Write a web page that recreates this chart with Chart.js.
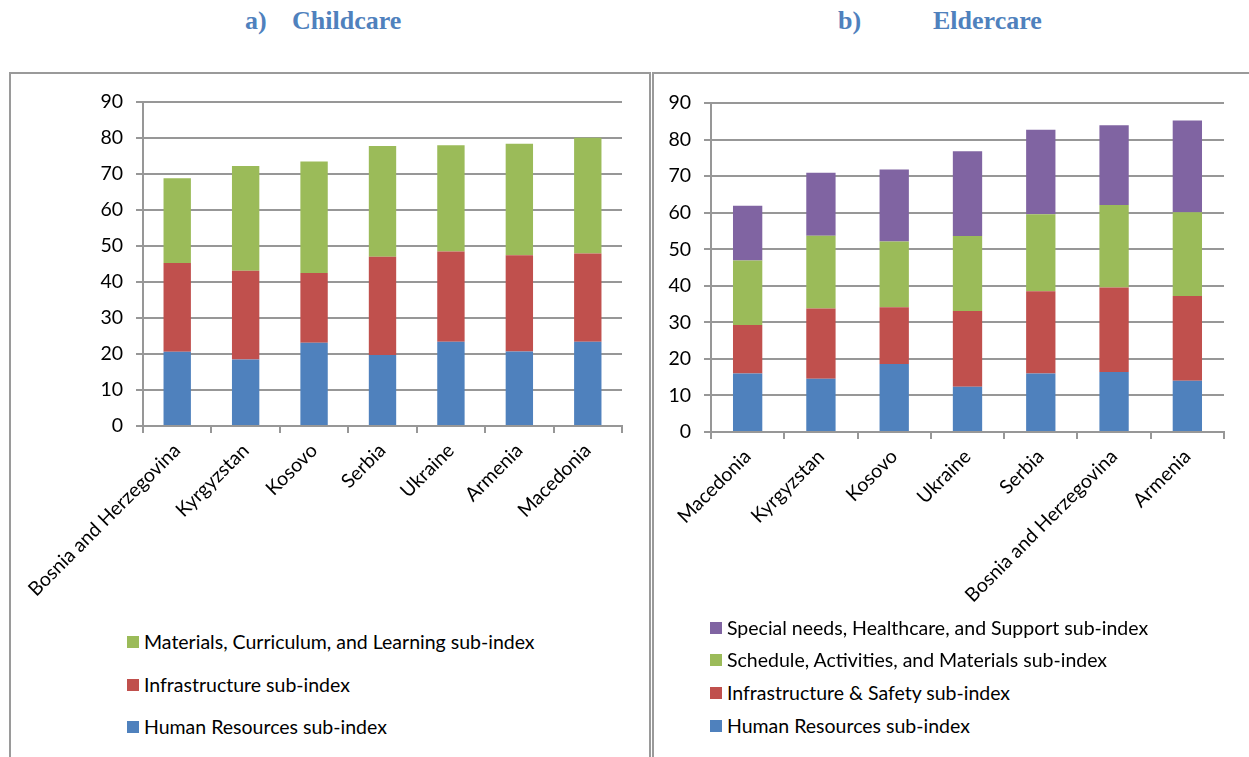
<!DOCTYPE html>
<html>
<head>
<meta charset="utf-8">
<script src="https://cdn.jsdelivr.net/npm/chart.js@4"></script>
<style>
  body { margin: 0; background: #fff; width: 1249px; height: 757px; overflow: hidden; position: relative; font-family: Lato, sans-serif; }
  .titulo { position: absolute; top: 6px; font: bold 26px "Liberation Serif", "Times New Roman", serif; color: #4f81bd; line-height: 30px; white-space: nowrap; }
  .moldura { position: absolute; top: 72px; border: 2px solid #9a9a9a; border-bottom: none; height: 700px; }
  .tela { position: absolute; top: 74px; }
  .legenda { position: absolute; font-size: 19.5px; color: #000; white-space: nowrap; }
  .legenda span.caixa { position: absolute; width: 12px; height: 12px; top: 5px; }
  .legenda span.texto { position: absolute; line-height: 22px; }
</style>
</head>
<body>
<div class="titulo" style="left:245px">a)</div>
<div class="titulo" style="left:292px">Childcare</div>
<div class="titulo" style="left:838px">b)</div>
<div class="titulo" style="left:933px">Eldercare</div>

<div class="moldura" style="left:9px; width:638px;"></div>
<div class="moldura" style="left:652px; width:620px;"></div>

<div class="tela" style="left:12px; width:636px; height:552px;"><canvas id="childCanvas"></canvas></div>
<div class="tela" style="left:655px; width:594px; height:558px;"><canvas id="elderCanvas"></canvas></div>

<div id="legendaChild"></div>
<div id="legendaElder"></div>

<script>
const yTicks = [0, 10, 20, 30, 40, 50, 60, 70, 80, 90];

// a) Childcare
const childPaises = ['Bosnia and Herzegovina', 'Kyrgyzstan', 'Kosovo', 'Serbia', 'Ukraine', 'Armenia', 'Macedonia'];
const childRecursos = [20.6, 18.5, 23.1, 19.7, 23.4, 20.7, 23.4];
const childInfra = [24.7, 24.6, 19.4, 27.3, 25.1, 26.7, 24.5];
const childMateriais = [23.5, 29.1, 31.0, 30.8, 29.5, 31.0, 32.2];

// b) Eldercare
const elderPaises = ['Macedonia', 'Kyrgyzstan', 'Kosovo', 'Ukraine', 'Serbia', 'Bosnia and Herzegovina', 'Armenia'];
const elderRecursos = [16.0, 14.6, 18.6, 12.4, 16.0, 16.4, 14.0];
const elderInfra = [13.3, 19.2, 15.5, 20.7, 22.5, 23.1, 23.2];
const elderAgenda = [17.6, 19.9, 18.0, 20.5, 21.1, 22.6, 22.9];
const elderEspecial = [15.0, 17.2, 19.7, 23.2, 23.1, 21.8, 25.1];

const azul = '#4f81bd';
const vermelho = '#c0504d';
const verde = '#9bbb59';
const roxo = '#8064a2';
const cinza = '#979797';
const fonte = { family: 'Lato', size: 19.5 };

function novoGrafico(telaId, paises, series, larguraY, padding) {
  const ctx = document.getElementById(telaId);
  return new Chart(ctx, {
    type: 'bar',
    data: {
      labels: paises,
      datasets: series.map((s) => ({
        label: s.nome,
        data: s.valores,
        backgroundColor: s.cor,
        borderWidth: 0,
        barPercentage: 0.4,
        categoryPercentage: 1
      }))
    },
    options: {
      responsive: true,
      maintainAspectRatio: false,
      animation: false,
      layout: { padding: padding },
      plugins: {
        legend: { display: false },
        tooltip: { enabled: false }
      },
      scales: {
        x: {
          stacked: true,
          afterFit: (scale) => { scale.height = 200; },
          grid: { offset: true, drawOnChartArea: false, drawTicks: true, tickLength: 7, color: cinza, lineWidth: 2 },
          border: { color: cinza, width: 2 },
          ticks: { minRotation: 45, maxRotation: 45, autoSkip: false, color: '#000', padding: 6, font: fonte }
        },
        y: {
          stacked: true,
          min: yTicks[0],
          max: yTicks[yTicks.length - 1],
          afterFit: (scale) => { scale.width = larguraY; },
          afterBuildTicks: (scale) => { scale.ticks = yTicks.map((v) => ({ value: v })); },
          grid: { color: cinza, lineWidth: 2, tickLength: 7 },
          border: { color: cinza, width: 2 },
          ticks: { color: '#000', padding: 13, font: fonte }
        }
      }
    }
  });
}

function novaLegenda(divId, itens, x, linhas) {
  const div = document.getElementById(divId);
  itens.forEach((item, i) => {
    const el = document.createElement('div');
    el.className = 'legenda';
    el.style.left = x + 'px';
    el.style.top = (linhas[i] - 11) + 'px';
    el.innerHTML = '<span class="caixa" style="left:0;background:' + item.cor + '"></span>' +
      '<span class="texto" style="left:17px">' + item.nome + '</span>';
    div.appendChild(el);
  });
}

window.onload = function () {
  const childSeries = [
    { nome: 'Human Resources sub-index', valores: childRecursos, cor: azul },
    { nome: 'Infrastructure sub-index', valores: childInfra, cor: vermelho },
    { nome: 'Materials, Curriculum, and Learning sub-index', valores: childMateriais, cor: verde }
  ];
  const elderSeries = [
    { nome: 'Human Resources sub-index', valores: elderRecursos, cor: azul },
    { nome: 'Infrastructure &amp; Safety sub-index', valores: elderInfra, cor: vermelho },
    { nome: 'Schedule, Activities, and Materials sub-index', valores: elderAgenda, cor: verde },
    { nome: 'Special needs, Healthcare, and Support sub-index', valores: elderEspecial, cor: roxo }
  ];

  novoGrafico('childCanvas', childPaises, childSeries, 131, { top: 28, right: 26, bottom: 0, left: 0 });
  novoGrafico('elderCanvas', elderPaises, elderSeries, 56, { top: 29, right: 25, bottom: 0, left: 0 });

  novaLegenda('legendaChild', childSeries.slice().reverse(), 127, [642, 685, 727]);
  novaLegenda('legendaElder', elderSeries.slice().reverse(), 710, [628, 660, 693, 726]);
};
</script>
</body>
</html>
